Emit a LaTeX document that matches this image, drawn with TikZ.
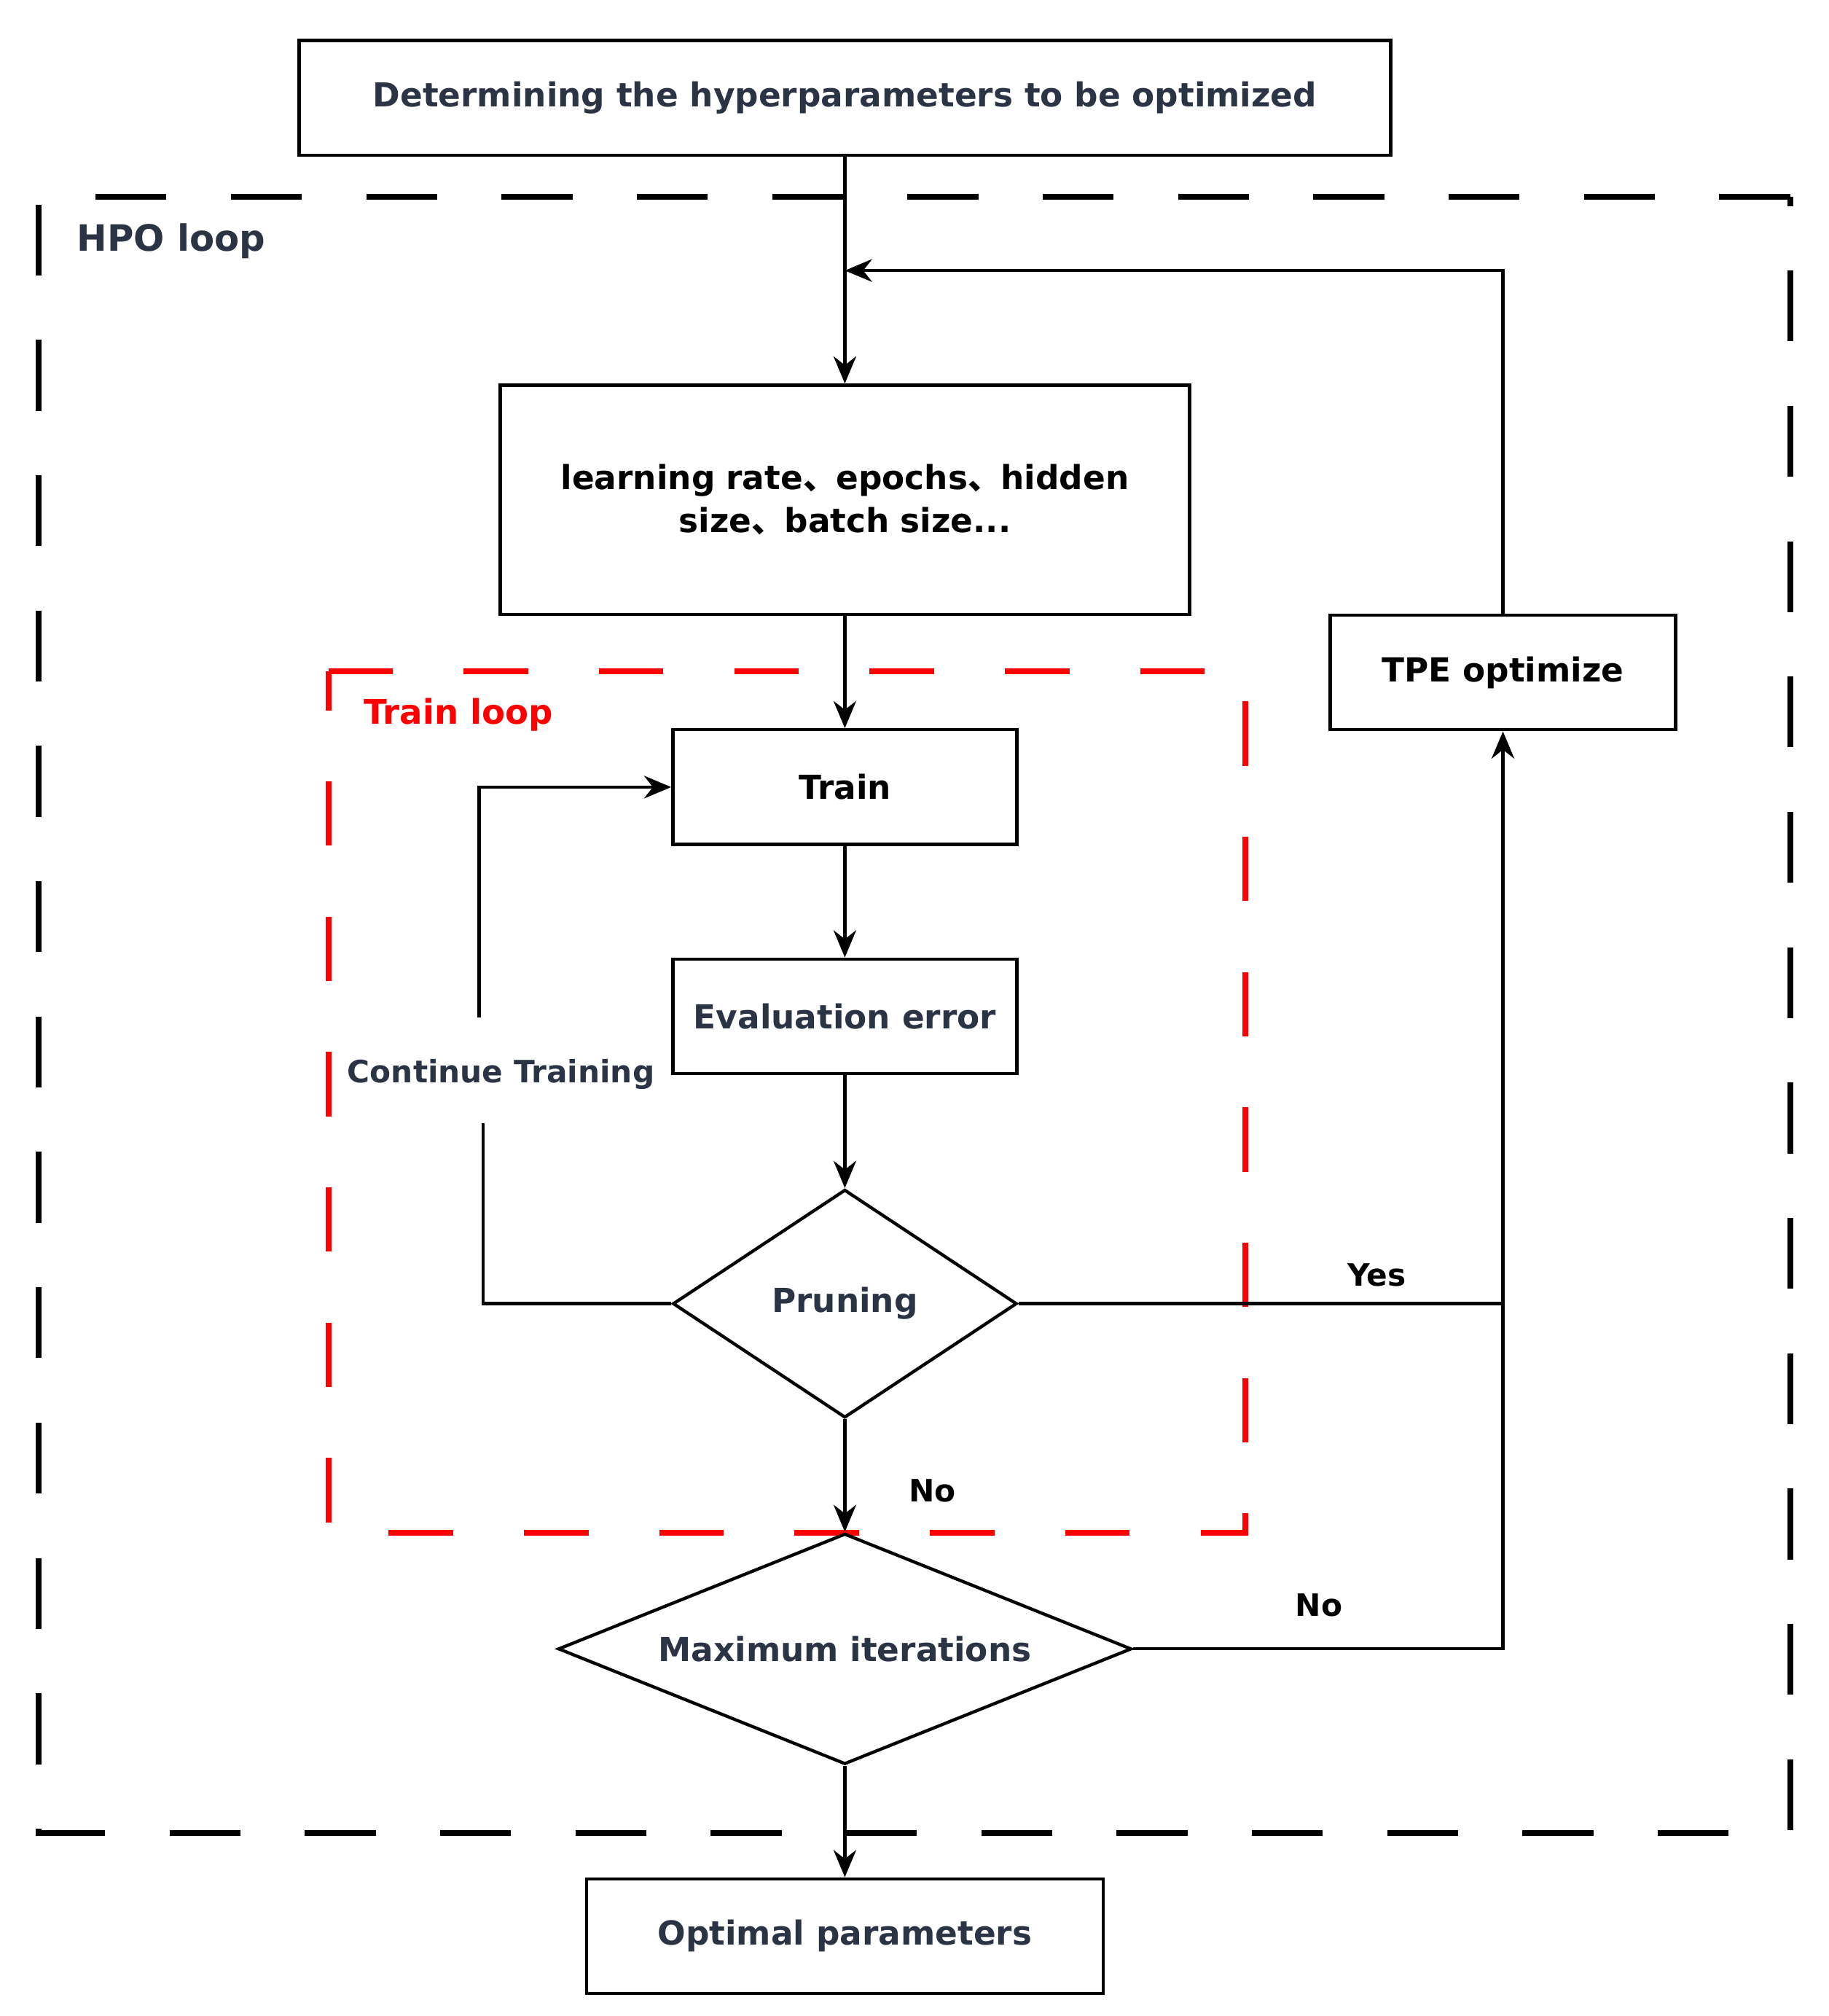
\documentclass[tikz,border=0pt]{standalone}
\usepackage{fontspec}
\setmainfont{DejaVu Sans}
\newfontfamily\cjk{Noto Sans CJK SC}
\usetikzlibrary{shapes.geometric,arrows.meta,positioning}

\definecolor{txt}{HTML}{2B3445}

\tikzset{
  box/.style={draw, line width=0.7pt, minimum height=0.89cm, font=\fontsize{7.3}{9.5}\selectfont\bfseries, text=txt, align=center},
  dec/.style={draw, diamond, aspect=1.5, line width=0.7pt, inner sep=0pt, font=\fontsize{7.3}{9.5}\selectfont\bfseries, text=txt},
  lbl/.style={font=\fontsize{6.8}{9}\selectfont\bfseries, text=txt},
  arr/.style={-{Stealth[length=6pt,width=5pt]}, line width=0.7pt},
  ln/.style={line width=0.7pt}
}

\begin{document}
\begin{tikzpicture}[x=0.01cm, y=-0.01cm]
\useasboundingbox (0,0) rectangle (1420,1565);

% loops
\draw[line width=1.3pt, dash pattern=on 0.55cm off 0.5cm] (1390,153) -- (30,153) -- (30,1423) -- (1390,1423) -- cycle;
\node[lbl, font=\fontsize{8}{10}\selectfont\bfseries] (hpo) at (133,187) {HPO loop};
\draw[red, line width=1.3pt, dash pattern=on 0.5cm off 0.55cm] (255,521) -- (967,521) -- (967,1190) -- (255,1190) -- cycle;
\node[lbl, text=red, font=\fontsize{7.5}{10}\selectfont\bfseries] (tl) at (356,555) {Train loop};

% nodes
\node[box, minimum width=8.47cm] (hyp) at (656,76) {Determining the hyperparameters to be optimized};
\node[box, minimum width=5.35cm, minimum height=1.78cm, text width=4.8cm, text=black] (par) at (656,388) {learning rate{\cjk 、}epochs{\cjk 、}hidden size{\cjk 、}batch size...};
\node[box, minimum width=2.68cm, text=black] (tpe) at (1167,522) {TPE optimize};
\node[box, minimum width=2.67cm, text=black] (train) at (656,611) {Train};
\node[box, minimum width=2.67cm] (eval) at (656,789) {Evaluation error};
\node[dec, minimum width=2.67cm, minimum height=1.77cm] (prun) at (656,1012) {Pruning};
\node[dec, aspect=2.5, minimum width=4.45cm, minimum height=1.79cm] (maxit) at (656,1280) {Maximum iterations};
\node[box, minimum width=4.01cm] (opt) at (656,1503) {Optimal parameters};

\coordinate (ret) at (656,210);
\coordinate (join) at (1167,1012);

% connectors
\draw[arr] (hyp) -- (par);
\draw[arr] (tpe.north) |- (ret);
\draw[arr] (par) -- (train);
\draw[arr] (train) -- (eval);
\draw[arr] (eval) -- (prun);
\draw[ln] (prun.west) -| (375,872);
\node[lbl] (cont) at (389,834) {Continue Training};
\draw[arr] (372,790) |- (train.west);
\draw[arr] (prun.east) -- (join) -- (tpe.south);
\node[lbl, text=black] (yes) at (1069,990) {Yes};
\draw[arr] (prun) -- (maxit);
\node[lbl, text=black] (no1) at (724,1157) {No};
\draw[ln] (maxit.east) -| (join);
\node[lbl, text=black] (no2) at (1024,1246) {No};
\draw[arr] (maxit) -- (opt);
\end{tikzpicture}
\end{document}
